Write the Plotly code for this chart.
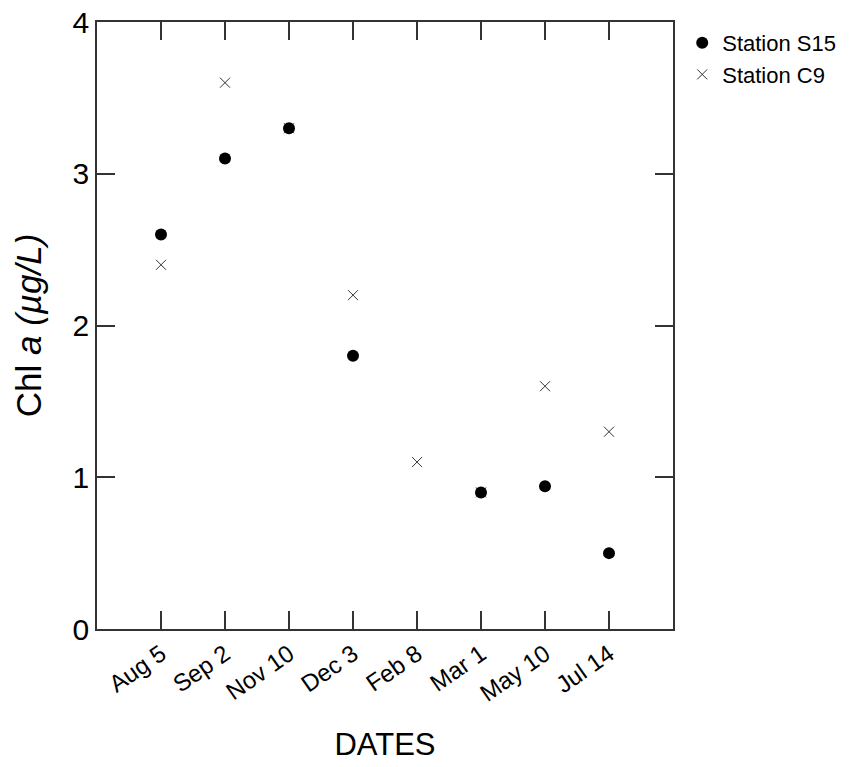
import plotly.graph_objects as go

dates = ["Aug 5", "Sep 2", "Nov 10", "Dec 3", "Feb 8", "Mar 1", "May 10", "Jul 14"]
s15 = [2.6, 3.1, 3.3, 1.8, None, 0.9, 0.94, 0.5]
c9 = [2.4, 3.6, 3.3, 2.2, 1.1, 0.9, 1.6, 1.3]
y_ticks = [0, 1, 2, 3, 4]

xpos = list(range(len(dates)))
FONT = "Liberation Sans, Arial, sans-serif"

fig = go.Figure()
fig.add_trace(go.Scatter(x=xpos, y=c9, mode="markers", name="Station C9",
                         marker=dict(symbol="x-thin", size=10, line=dict(width=1, color="#333"), color="#333")))
fig.add_trace(go.Scatter(x=xpos, y=s15, mode="markers", name="Station S15",
                         marker=dict(symbol="circle", size=12, color="black")))

axis_common = dict(showline=True, linecolor="#333", linewidth=1.5, mirror="ticks",
                   ticks="inside", ticklen=18, tickwidth=1.5, tickcolor="#333",
                   showgrid=False, zeroline=False, automargin=False)

fig.update_xaxes(range=[-1, len(dates)], tickmode="array", tickvals=xpos, ticktext=dates,
                 tickangle=-35, tickfont=dict(size=24, family=FONT, color="black"),
                 title=dict(text="DATES", font=dict(size=31, family=FONT, color="black"), standoff=28),
                 **axis_common)
fig.update_yaxes(range=[0, 4], tickmode="array", tickvals=y_ticks,
                 tickfont=dict(size=30, family=FONT, color="black"),
                 title=dict(text="Chl <i>a</i> <i>(µg/L)</i>", font=dict(size=35, family=FONT, color="black"), standoff=20),
                 **axis_common)

fig.update_layout(width=854, height=767, plot_bgcolor="white", paper_bgcolor="white",
                  margin=dict(l=97, r=181, t=22, b=138),
                  legend=dict(x=1.016, y=1.0, xanchor="left", yanchor="top", traceorder="reversed",
                              font=dict(size=22, family=FONT, color="black"),
                              itemwidth=30, tracegroupgap=0, bgcolor="rgba(0,0,0,0)"))

fig.write_html("out.html", config={"displayModeBar": False},
               post_script="document.body.style.margin='0';")
